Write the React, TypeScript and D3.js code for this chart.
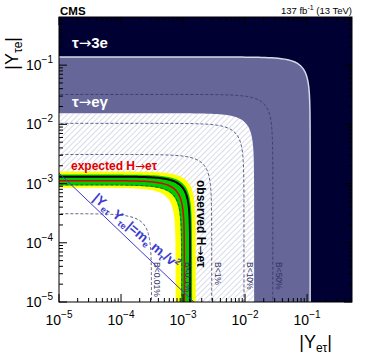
import React from 'react';
import * as d3 from 'd3';

const W = 374;
const H = 359;
const margin = { top: 17, right: 22, bottom: 57, left: 59 };

const xDomain = [1e-5, 0.53];
const yDomain = [1e-5, 0.65];
const tickExps = [-5, -4, -3, -2, -1];

// exclusion boundaries, [|Y_et| radius, |Y_te| radius]
const tau3eBound = [0.112, 0.137];
const tauEgBound = [0.014, 0.0154];

// H -> e tau limits
const observedLimit = [1.3e-3, 1.31e-3];
const expectedLimit = [1.05e-3, 1.12e-3];
const green1Sigma = [[0.93e-3, 0.93e-3], [1.4e-3, 1.42e-3]];
const yellow2Sigma = [[0.76e-3, 0.85e-3], [1.6e-3, 1.6e-3]];

// branching fraction contours
const bLabels = ['B<0.01%', 'B<0.1%', 'B<1%', 'B<10%', 'B<50%'];
const bRx = [3.1e-4, 9.5e-4, 2.9e-3, 9.6e-3, 2.8e-2];
const bRy = [3.1e-4, 9.5e-4, 3.1e-3, 1.04e-2, 3.2e-2];

// |Y_et Y_te| = m_e m_tau / v^2
const naturalProduct = 1.5e-8;

const x = d3.scaleLog().domain(xDomain).range([margin.left, W - margin.right]);
const y = d3.scaleLog().domain(yDomain).range([H - margin.bottom, margin.top]);

const font = 'Liberation Sans, Arial, Helvetica, sans-serif';
const arrowFont = 'DejaVu Sans';

// quarter ellipse (linear space) drawn on log axes
function arcPoints(rx: number, ry: number): [number, number][] {
    const pts: [number, number][] = [];
    const n = 80;
    const u0 = Math.log10(xDomain[0]) - 0.3;
    const u1 = Math.log10(rx / Math.SQRT2);
    for (let i = 0; i <= n; i++) {
        const xv = Math.pow(10, u0 + (u1 - u0) * i / n);
        const yv = ry * Math.sqrt(Math.max(0, 1 - (xv / rx) ** 2));
        pts.push([x(xv), y(yv)]);
    }
    const v0 = Math.log10(ry / Math.SQRT2);
    const v1 = Math.log10(yDomain[0]) - 0.3;
    for (let i = 1; i <= n; i++) {
        const yv = Math.pow(10, v0 + (v1 - v0) * i / n);
        const xv = rx * Math.sqrt(Math.max(0, 1 - (yv / ry) ** 2));
        pts.push([x(xv), y(yv)]);
    }
    return pts;
}

const line = d3.line();

function insidePath(r: number[]) {
    const pts = arcPoints(r[0], r[1]);
    const last = pts[pts.length - 1];
    pts.push([pts[0][0], last[1]]);
    return line(pts) + 'Z';
}

function bandPath(inner: number[], outer: number[]) {
    const a = arcPoints(outer[0], outer[1]);
    const b = arcPoints(inner[0], inner[1]).reverse();
    return line(a.concat(b)) + 'Z';
}

function arcPath(r: number[]) {
    return line(arcPoints(r[0], r[1]));
}

function minorTicks(domain: number[]) {
    const out: number[] = [];
    for (let e = -5; e <= 0; e++) {
        for (let k = 2; k <= 9; k++) {
            const v = k * Math.pow(10, e);
            if (v > domain[0] && v < domain[1]) out.push(v);
        }
    }
    return out;
}

const Arrow = () => <tspan fontFamily={arrowFont} fontWeight="normal">→</tspan>;

export default function App() {
    const x0 = margin.left, x1 = W - margin.right;
    const y0 = H - margin.bottom, y1 = margin.top;
    const navy = '#000033';
    const purple = '#666699';
    const dash = '#333366';

    // naturalness line
    const natPts: [number, number][] = [xDomain[0], 3e-3].map(v => [x(v), y(naturalProduct / v)] as [number, number]);
    const natAngle = 40;
    const natX = 3.4e-5;

    return (
        <svg width={W} height={H} style={{ position: 'absolute', left: 0, top: 0, background: '#fff' }} fontFamily={font}>
            <defs>
                <clipPath id="plot">
                    <rect x={x0} y={y1} width={x1 - x0} height={y0 - y1} />
                </clipPath>
                <pattern id="hatch" patternUnits="userSpaceOnUse" width={4} height={4} patternTransform="rotate(45)">
                    <line x1={0} y1={0} x2={0} y2={4} stroke="#b4b8d2" strokeWidth={1} />
                </pattern>
            </defs>

            <g clipPath="url(#plot)">
                <rect x={x0} y={y1} width={x1 - x0} height={y0 - y1} fill={navy} />
                <path d={insidePath(tau3eBound)} fill={purple} />
                <path d={arcPath(tau3eBound)} fill="none" stroke="#d8d8e8" strokeWidth={1.5} />
                <path d={insidePath(tauEgBound)} fill="#fff" />
                <path d={insidePath(tauEgBound)} fill="url(#hatch)" />
                <path d={insidePath(observedLimit)} fill="#fff" />

                <path d={bandPath(yellow2Sigma[0], yellow2Sigma[1])} fill="#ffff00" />
                <path d={bandPath(green1Sigma[0], green1Sigma[1])} fill="#00cc00" />

                {bRx.map((r, i) => (
                    <path key={bLabels[i]} d={arcPath([r, bRy[i]])} fill="none" stroke={dash} strokeWidth={0.8} strokeDasharray="3,2" />
                ))}

                <path d={arcPath(expectedLimit)} fill="none" stroke="#dd0000" strokeWidth={1.5} />
                <path d={arcPath(observedLimit)} fill="none" stroke="#000" strokeWidth={2} />

                <path d={line(natPts) || ''} fill="none" stroke="#3b3bd0" strokeWidth={1} />
            </g>

            {/* texts inside plot */}
            <text x={72} y={48} fill="#fff" fontSize={15} fontWeight="bold">τ<Arrow />3e</text>
            <text x={72} y={107} fill="#fff" fontSize={15} fontWeight="bold">τ<Arrow />eγ</text>
            <text x={71} y={170} fill="#e00000" fontSize={12} fontWeight="bold">expected H<Arrow />eτ</text>
            <text transform={`translate(${x(observedLimit[0]) + 7},180) rotate(90)`} fill="#000" fontSize={12} fontWeight="bold">observed H<Arrow />eτ</text>
            {bRx.map((r, i) => (
                <text key={bLabels[i]} transform={`translate(${x(r) + 3},262) rotate(90)`} fill={dash} fontSize={8.5}>{bLabels[i]}</text>
            ))}
            <text transform={`translate(${x(natX)},${y(naturalProduct / natX) - 5}) rotate(${natAngle})`} fill="#3b3bd0" fontSize={13.5} fontWeight="bold">
                |Y<tspan fontSize={9} dy={3}>eτ</tspan><tspan dy={-3}> Y</tspan><tspan fontSize={9} dy={3}>τe</tspan><tspan dy={-3}>|=m</tspan><tspan fontSize={9} dy={3}>e</tspan><tspan dy={-3}> m</tspan><tspan fontSize={9} dy={3}>τ</tspan><tspan dy={-3}>/v</tspan><tspan fontSize={9} dy={-5}>2</tspan>
            </text>

            {/* frame and ticks */}
            <rect x={x0} y={y1} width={x1 - x0} height={y0 - y1} fill="none" stroke="#000" strokeWidth={1} />
            {tickExps.map(e => {
                const px = x(Math.pow(10, e));
                return <g key={'xt' + e}>
                    <line x1={px} x2={px} y1={y0} y2={y0 - 8} stroke="#000" />
                    <line x1={px} x2={px} y1={y1} y2={y1 + 8} stroke="#000" />
                </g>;
            })}
            {minorTicks(xDomain).map(v => (
                <g key={'xm' + v}>
                    <line x1={x(v)} x2={x(v)} y1={y0} y2={y0 - 4} stroke="#000" />
                    <line x1={x(v)} x2={x(v)} y1={y1} y2={y1 + 4} stroke="#000" />
                </g>
            ))}
            {tickExps.map(e => {
                const py = y(Math.pow(10, e));
                return <g key={'yt' + e}>
                    <line x1={x0} x2={x0 + 8} y1={py} y2={py} stroke="#000" />
                    <line x1={x1} x2={x1 - 8} y1={py} y2={py} stroke="#000" />
                </g>;
            })}
            {minorTicks(yDomain).map(v => (
                <g key={'ym' + v}>
                    <line x1={x0} x2={x0 + 4} y1={y(v)} y2={y(v)} stroke="#000" />
                    <line x1={x1} x2={x1 - 4} y1={y(v)} y2={y(v)} stroke="#000" />
                </g>
            ))}

            {/* tick labels */}
            {tickExps.map(e => (
                <text key={'xl' + e} x={x(Math.pow(10, e))} y={325} textAnchor="middle" fontSize={14}>
                    10<tspan fontSize={10} dy={-7}>{'−' + (-e)}</tspan>
                </text>
            ))}
            {tickExps.map(e => (
                <text key={'yl' + e} x={53} y={y(Math.pow(10, e)) + 5} textAnchor="end" fontSize={14}>
                    10<tspan fontSize={10} dy={-7}>{'−' + (-e)}</tspan>
                </text>
            ))}

            {/* axis titles */}
            <text x={332} y={348} textAnchor="end" fontSize={18}>
                |Y<tspan fontSize={12} dy={4}>eτ</tspan><tspan dy={-4}>|</tspan>
            </text>
            <text transform="translate(18,37) rotate(-90)" textAnchor="end" fontSize={18}>
                |Y<tspan fontSize={12} dy={4}>τe</tspan><tspan dy={-4}>|</tspan>
            </text>

            <text x={60} y={15} fontSize={11.5} fontWeight="bold">CMS</text>
            <text x={352} y={14} textAnchor="end" fontSize={9.5}>
                137 fb<tspan fontSize={7} dy={-4}>-1</tspan><tspan dy={4}> (13 TeV)</tspan>
            </text>
        </svg>
    );
}
